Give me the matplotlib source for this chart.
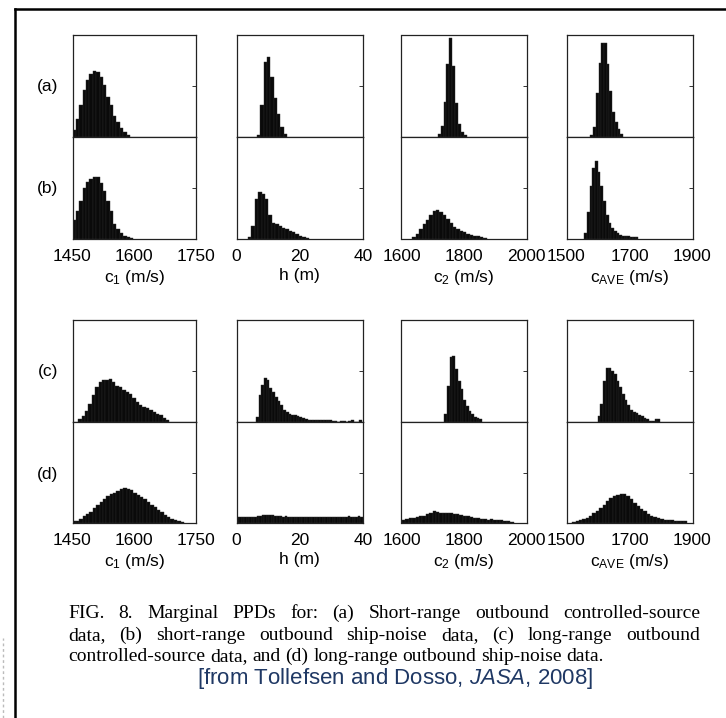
import matplotlib
matplotlib.use("Agg")
import matplotlib.pyplot as plt
from matplotlib.lines import Line2D
import numpy as np

plt.rcParams['font.family'] = ['Liberation Sans', 'DejaVu Sans']
plt.rcParams['mathtext.fontset'] = 'custom'
plt.rcParams['mathtext.rm'] = 'Liberation Sans'
plt.rcParams['mathtext.it'] = 'Liberation Sans:italic'
plt.rcParams['mathtext.default'] = 'regular'

# ---- data (bin heights, panel height = 1) ----
xlabels = ['c$_1$ (m/s)', 'h (m)', 'c$_2$ (m/s)', 'c$_{AVE}$ (m/s)']
xlims = [(1450, 1750), (0, 40), (1600, 2000), (1500, 1900)]
xticks = [[1450, 1600, 1750], [0, 20, 40], [1600, 1800, 2000], [1500, 1700, 1900]]
row_names = ['(a)', '(b)', '(c)', '(d)']

# row (a): short-range controlled-source
a_c1 = [0.07, 0.18, 0.31, 0.46, 0.56, 0.62, 0.65, 0.64, 0.59, 0.51, 0.39, 0.31, 0.21, 0.15, 0.09, 0.05, 0.02]
a_h = [0.02, 0.31, 0.74, 0.78, 0.59, 0.38, 0.23, 0.10, 0.03]
a_c2 = [0.03, 0.11, 0.34, 0.72, 0.97, 0.70, 0.33, 0.13, 0.05, 0.02]
a_cave = [0.02, 0.10, 0.43, 0.73, 0.92, 0.92, 0.72, 0.45, 0.25, 0.15, 0.08, 0.03]
a_x0 = [1450, 6.4, 1716, 1576]
a_dx = [8.2, 1.07, 9.2, 8.6]

# row (b): short-range ship-noise
b_c1 = [0.19, 0.27, 0.37, 0.50, 0.56, 0.59, 0.61, 0.61, 0.55, 0.47, 0.37, 0.27, 0.15, 0.10, 0.06, 0.03, 0.015, 0.006]
b_h = [0.02, 0.13, 0.39, 0.46, 0.44, 0.39, 0.24, 0.16, 0.15, 0.13, 0.11, 0.10, 0.08, 0.065, 0.05, 0.03, 0.02, 0.006]
b_c2 = [0.02, 0.05, 0.10, 0.15, 0.19, 0.24, 0.27, 0.28, 0.26, 0.24, 0.20, 0.16, 0.12, 0.10, 0.08, 0.065,
        0.05, 0.04, 0.03, 0.026, 0.02, 0.013]
b_cave = [0.06, 0.26, 0.52, 0.70, 0.76, 0.66, 0.52, 0.37, 0.24, 0.16, 0.11, 0.08, 0.06, 0.04, 0.03, 0.03,
          0.026, 0.022, 0.02, 0.015]
b_x0 = [1450, 3.66, 1635, 1556]
b_dx = [8.2, 1.07, 10.8, 8.6]

# row (c): long-range controlled-source
c_c1 = [0.03, 0.06, 0.11, 0.18, 0.26, 0.34, 0.39, 0.41, 0.41, 0.42, 0.39, 0.35, 0.34, 0.31, 0.29, 0.27,
        0.24, 0.20, 0.17, 0.15, 0.14, 0.12, 0.10, 0.08, 0.07, 0.04, 0.02]
c_h = [0.05, 0.26, 0.36, 0.43, 0.41, 0.33, 0.29, 0.25, 0.21, 0.17, 0.12, 0.10, 0.08, 0.07, 0.066, 0.056,
       0.05, 0.043, 0.03, 0.023, 0.022, 0.024, 0.021, 0.02, 0.022, 0.02, 0.021, 0.019, 0.006, 0.005,
       0.004, 0.006, 0.005, 0.004, 0.012, 0.022, 0.004, 0.003, 0.016]
c_c2 = [0.08, 0.35, 0.64, 0.65, 0.52, 0.40, 0.32, 0.22, 0.16, 0.11, 0.08, 0.05, 0.04, 0.03]
c_cave = [0.06, 0.18, 0.40, 0.53, 0.53, 0.50, 0.47, 0.40, 0.34, 0.27, 0.22, 0.17, 0.12, 0.10, 0.085,
          0.07, 0.06, 0.04, 0.026, 0.007, 0.005, 0.03, 0.03]
c_x0 = [1464, 6.13, 1737, 1599]
c_dx = [8.2, 0.86, 8.65, 8.6]

# row (d): long-range ship-noise
d_c1 = [0.015, 0.02, 0.04, 0.065, 0.09, 0.11, 0.15, 0.18, 0.21, 0.24, 0.27, 0.29, 0.30, 0.32, 0.34, 0.35,
        0.34, 0.33, 0.30, 0.28, 0.26, 0.24, 0.21, 0.18, 0.16, 0.13, 0.11, 0.08, 0.06, 0.04, 0.03, 0.015, 0.01]
d_h = [0.060, 0.058, 0.060, 0.061, 0.059, 0.062, 0.064, 0.063, 0.070, 0.072, 0.078, 0.080, 0.079, 0.081,
       0.077, 0.072, 0.068, 0.066, 0.063, 0.065, 0.062, 0.060, 0.063, 0.058, 0.061, 0.060, 0.057, 0.062,
       0.059, 0.061, 0.058, 0.060, 0.063, 0.059, 0.057, 0.061, 0.060, 0.058, 0.062, 0.059, 0.061, 0.057,
       0.060, 0.062, 0.066, 0.063, 0.059, 0.064, 0.068, 0.062]
d_c2 = [0.025, 0.04, 0.05, 0.05, 0.055, 0.066, 0.07, 0.09, 0.10, 0.12, 0.11, 0.10, 0.10, 0.10, 0.10, 0.09,
        0.09, 0.08, 0.07, 0.066, 0.06, 0.05, 0.045, 0.04, 0.038, 0.03, 0.038, 0.03, 0.025, 0.025, 0.023,
        0.02, 0.007]
d_cave = [0.01, 0.017, 0.026, 0.04, 0.05, 0.07, 0.10, 0.12, 0.15, 0.18, 0.22, 0.25, 0.27, 0.28, 0.29, 0.29,
          0.27, 0.24, 0.20, 0.17, 0.14, 0.12, 0.09, 0.07, 0.06, 0.05, 0.04, 0.033, 0.03, 0.026, 0.023,
          0.023, 0.02, 0.017]
d_x0 = [1450, 0, 1602, 1518]
d_dx = [8.2, 0.8, 10.8, 10.75]

rows = [
    ([a_c1, a_h, a_c2, a_cave], a_x0, a_dx),
    ([b_c1, b_h, b_c2, b_cave], b_x0, b_dx),
    ([c_c1, c_h, c_c2, c_cave], c_x0, c_dx),
    ([d_c1, d_h, d_c2, d_cave], d_x0, d_dx),
]

caption = [
    "FIG. 8. Marginal PPDs for: (a) Short-range outbound controlled-source",
    "data, (b) short-range outbound ship-noise data, (c) long-range outbound",
    "controlled-source data, and (d) long-range outbound ship-noise data.",
]
citation = r"[from Tollefsen and Dosso, $\it{JASA}$, 2008]"

# ---- layout in pixels ----
W, H = 726, 718
fig = plt.figure(figsize=(W / 100, H / 100), dpi=100)

col_left = [72.5, 236.5, 401.5, 566.5]
col_width = [123.5, 126.5, 125.0, 126.0]
row_top = [35, 137, 320, 422]
row_h = [102, 102, 102, 101]

for r, (series, x0s, dxs) in enumerate(rows):
    for c in range(4):
        l = col_left[c] / W
        b = 1 - (row_top[r] + row_h[r]) / H
        ax = fig.add_axes([l, b, col_width[c] / W, row_h[r] / H])
        heights = np.array(series[c])
        edges = x0s[c] + dxs[c] * np.arange(len(heights))
        ax.bar(edges, heights, width=dxs[c], align='edge', color='#0a0a0a',
               edgecolor='#2a2a2a', linewidth=0.3)
        ax.set_xlim(*xlims[c])
        ax.set_ylim(0, 1)
        for s in ax.spines.values():
            s.set_color('#222222')
            s.set_linewidth(0.9)
        ax.yaxis.tick_right()
        ax.set_yticks([0, 0.5, 1])
        ax.set_yticklabels([])
        ax.tick_params(axis='y', direction='in', length=3, width=0.7, color='#333333')
        ax.set_xticks(xticks[c])
        ax.tick_params(axis='x', direction='in', length=0, pad=7, labelsize=12.5)
        if r in (1, 3):
            ax.set_xlabel(xlabels[c], fontsize=12.5, labelpad=3)
        else:
            ax.set_xticklabels([])
    fig.text(48 / W, 1 - (row_top[r] + 52) / H, row_names[r], ha='center', va='center',
             fontsize=12.5)

# outer frame (left and top edges visible)
fig.add_artist(Line2D([15 / W, 15 / W], [0, 1 - 9 / H], color='black', lw=1.8))
fig.add_artist(Line2D([15 / W, 1], [1 - 9 / H, 1 - 9 / H], color='black', lw=1.8))
fig.add_artist(Line2D([3 / W, 3 / W], [0, 80 / H], color='#bbbbbb', lw=1, ls=(0, (2, 2))))

# caption, first two lines justified
renderer = fig.canvas.get_renderer()
cap_size = 14
cap_base = [618, 640, 661]
x_left, x_right = 68, 700
for i, line in enumerate(caption):
    words = line.split(' ')
    texts = [fig.text(0, 1 - cap_base[i] / H, w, family='Liberation Serif', fontsize=cap_size,
                      va='baseline', ha='left') for w in words]
    widths = [t.get_window_extent(renderer).width for t in texts]
    if i < 2:
        gap = (x_right - x_left - sum(widths)) / (len(words) - 1)
    else:
        gap = 0.25 * cap_size * 100 / 72
    x = x_left
    for t, w in zip(texts, widths):
        t.set_x(x / W)
        x += w + gap

fig.text(395 / W, 1 - 684 / H, citation, ha='center', va='baseline', fontsize=16,
         color='#1f3864')

fig.savefig('out.png', dpi=100)
